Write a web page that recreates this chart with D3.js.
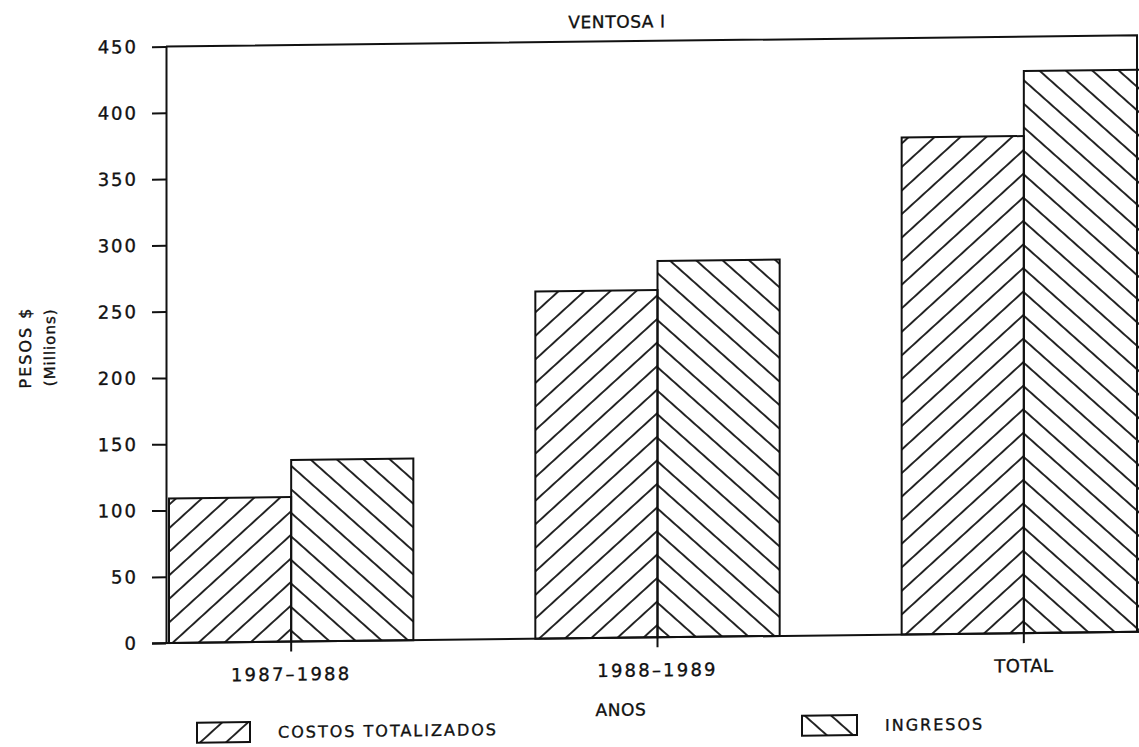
<!DOCTYPE html>
<html>
<head>
<meta charset="utf-8">
<script src="https://cdn.jsdelivr.net/npm/d3@7"></script>
<style>
  html, body { margin: 0; padding: 0; background: #fff; }
  svg { display: block; font-family: "DejaVu Sans", sans-serif; }
  text { fill: #111; stroke: #111; stroke-width: 0.35px; }
</style>
</head>
<body>
<svg id="chart" width="1139" height="747"></svg>
<script>
// chart data
const categories = ['1987–1988', '1988–1989', 'TOTAL'];
const seriesNames = ['COSTOS TOTALIZADOS', 'INGRESOS'];
const costos = [109, 262, 375];
const ingresos = [137, 284, 424];
const yTicks = [0, 50, 100, 150, 200, 250, 300, 350, 400, 450];

const W = 1139, H = 747;
const axisX = 166, baseY = 643, topY = 46.5, rightX = 1137;
const slope = 0.0115;           // the scanned page leans a little
const hatchGap = 17.5, hatchAngle = 42;

const svg = d3.select('#chart');
const defs = svg.append('defs');
const skewDeg = -Math.atan(slope) * 180 / Math.PI;
const root = svg.append('g')
  .attr('transform', `translate(0,${slope * axisX}) skewY(${skewDeg})`);

const y = d3.scaleLinear().domain([0, 450]).range([baseY, topY]);
const x0 = d3.scaleBand().domain(categories).range([169, 1146])
  .paddingInner(0.333).paddingOuter(0);
const x1 = d3.scaleBand().domain(seriesNames).range([0, x0.bandwidth()]).padding(0);

const rows = categories.map((c, i) => ({ cat: c, i, values: [costos[i], ingresos[i]] }));

// one hatch pattern per bar so the two hatches meet at the divider
function hatch(id, ax, ay, angle) {
  const p = defs.append('pattern')
    .attr('id', id)
    .attr('patternUnits', 'userSpaceOnUse')
    .attr('width', hatchGap)
    .attr('height', hatchGap)
    .attr('patternTransform', `translate(${ax},${ay}) rotate(${angle}) translate(0,${-hatchGap / 2})`);
  p.append('line')
    .attr('x1', -1).attr('x2', hatchGap + 1)
    .attr('y1', hatchGap / 2).attr('y2', hatchGap / 2)
    .attr('stroke', '#111').attr('stroke-width', 1.8);
  return `url(#${id})`;
}

rows.forEach(r => {
  const cx = x0(r.cat) + x0.bandwidth() / 2;
  r.fills = [
    hatch(`h0-${r.i}`, cx, baseY, -hatchAngle),
    hatch(`h1-${r.i}`, cx, baseY, hatchAngle)
  ];
});

// bars
const groups = root.append('g').selectAll('g')
  .data(rows).join('g')
  .attr('transform', d => `translate(${x0(d.cat)},0)`);

groups.selectAll('rect')
  .data(d => d.values.map((v, s) => ({ v, s, fill: d.fills[s] })))
  .join('rect')
  .attr('x', d => x1(seriesNames[d.s]))
  .attr('width', x1.bandwidth())
  .attr('y', d => y(d.v))
  .attr('height', d => baseY - y(d.v))
  .attr('fill', d => d.fill)
  .attr('stroke', '#111')
  .attr('stroke-width', 2);

// frame: top, right, baseline
root.append('path')
  .attr('d', `M${axisX},${topY}H${rightX}V${baseY}`)
  .attr('fill', 'none').attr('stroke', '#111').attr('stroke-width', 2);
root.append('line')
  .attr('x1', 152).attr('x2', W + 10)
  .attr('y1', baseY).attr('y2', baseY)
  .attr('stroke', '#111').attr('stroke-width', 2);

// y axis
const yAxis = root.append('g')
  .attr('transform', `translate(${axisX},0)`)
  .call(d3.axisLeft(y).tickValues(yTicks).tickSize(14).tickPadding(14).tickSizeOuter(0));
yAxis.select('.domain').attr('stroke', '#111').attr('stroke-width', 2);
yAxis.selectAll('.tick line').attr('stroke', '#111').attr('stroke-width', 2);
yAxis.selectAll('.tick text')
  .attr('font-size', 18).attr('letter-spacing', 2)
  .attr('font-family', '"DejaVu Sans", sans-serif')
  .attr('fill', '#111');

// x axis
const xAxis = root.append('g')
  .attr('transform', `translate(0,${baseY})`)
  .call(d3.axisBottom(x0).tickSize(10).tickPadding(0).tickSizeOuter(0));
xAxis.select('.domain').remove();
xAxis.selectAll('.tick line').attr('stroke', '#111').attr('stroke-width', 2);
xAxis.selectAll('.tick text')
  .attr('y', 39).attr('dy', null)
  .attr('font-size', 18).attr('letter-spacing', d => d === 'TOTAL' ? 0.4 : 2.2)
  .attr('font-family', '"DejaVu Sans", sans-serif')
  .attr('fill', '#111');

// titles
root.append('text')
  .attr('x', 617).attr('y', 33)
  .attr('text-anchor', 'middle')
  .attr('font-size', 17).attr('letter-spacing', 0.6)
  .text('VENTOSA I');

root.append('text')
  .attr('x', 621).attr('y', 721)
  .attr('text-anchor', 'middle')
  .attr('font-size', 17).attr('letter-spacing', 0.6)
  .text('ANOS');

root.append('text')
  .attr('transform', 'translate(31,346) rotate(-90)')
  .attr('text-anchor', 'middle')
  .attr('font-size', 16).attr('letter-spacing', 2)
  .text('PESOS $');
root.append('text')
  .attr('transform', 'translate(55,346) rotate(-90)')
  .attr('text-anchor', 'middle')
  .attr('font-size', 15).attr('letter-spacing', 1)
  .text('(Millions)');

// legend
const legendItems = [
  { name: seriesNames[0], x: 197, w: 53, tx: 278, ax: 200, angle: -hatchAngle },
  { name: seriesNames[1], x: 802, w: 55, tx: 885, ax: 827, angle: hatchAngle }
];
const legend = root.append('g').selectAll('g')
  .data(legendItems).join('g');
legend.append('rect')
  .attr('x', d => d.x).attr('y', 723)
  .attr('width', d => d.w).attr('height', 20)
  .attr('fill', (d, i) => hatch(`lg-${i}`, d.ax, 743, d.angle))
  .attr('stroke', '#111').attr('stroke-width', 2);
legend.append('text')
  .attr('x', d => d.tx).attr('y', 739)
  .attr('font-size', 16).attr('letter-spacing', 2)
  .text(d => d.name);
</script>
</body>
</html>
